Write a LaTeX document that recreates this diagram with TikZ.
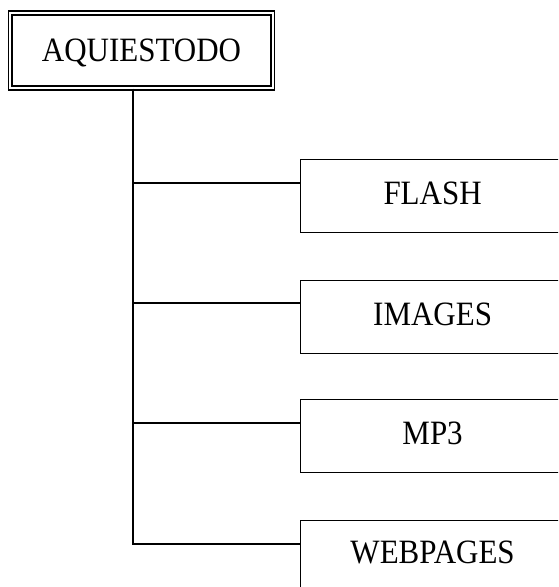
\documentclass[tikz,border=0pt]{standalone}
\usepackage{fontspec}
\setmainfont{Liberation Serif}
\tikzset{
  lbl/.style={font=\fontsize{31}{34}\selectfont},
  rootbox/.style={draw, double, double distance=2.4pt, line width=1.4pt,
    minimum width=262.5pt, minimum height=75pt, inner sep=0pt,
    text height=22.5pt, text depth=0pt, lbl},
  leafbox/.style={draw, line width=1.2pt, anchor=north west,
    minimum width=264pt, minimum height=73pt, inner sep=0pt,
    text height=22.5pt, text depth=6pt, lbl},
  conn/.style={line width=1.2pt}
}
\newcommand{\tallt}[1]{\scalebox{1}[1.1]{#1}}
\begin{document}
\begin{tikzpicture}[x=1pt,y=-1pt]
\clip (0,0) rectangle (558,587);
\fill[white] (0,0) rectangle (558,587);
\node[rootbox] (root) at (141.5,50.5) {\tallt{AQUIESTODO}};
\node[leafbox] (flash) at (300,159) {\tallt{FLASH}};
\node[leafbox] (images) at (300,280) {\tallt{IMAGES}};
\node[leafbox] (mp3) at (300,399) {\tallt{MP3}};
\node[leafbox, minimum height=80pt, text depth=16pt] (web) at (300,520) {\tallt{WEBPAGES}};
\coordinate (t0) at (133,183);
\coordinate (t1) at (133,303);
\coordinate (t2) at (133,423);
\coordinate (t3) at (133,544);
\draw[conn] (root.south -| t0) -- (t3) -- (t3 -| web.west);
\draw[conn] (t0) -- (t0 -| flash.west);
\draw[conn] (t1) -- (t1 -| images.west);
\draw[conn] (t2) -- (t2 -| mp3.west);
\end{tikzpicture}
\end{document}
